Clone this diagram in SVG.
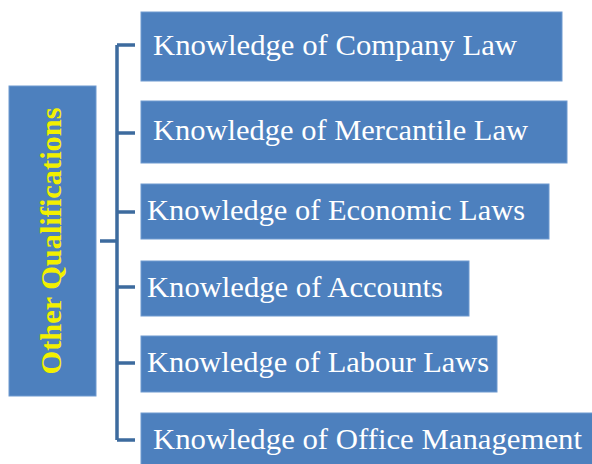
<svg xmlns="http://www.w3.org/2000/svg" width="592" height="464" viewBox="0 0 592 464">
<style>
.box{fill:#4d80be;stroke:#6f9ad0;stroke-width:1}
.t{font-family:"Liberation Serif","Times New Roman",serif;font-size:29px;fill:#ffffff}
.title{font-family:"Liberation Serif","Times New Roman",serif;font-size:30px;font-weight:bold;fill:#f2f000}
.c{stroke:#3d6b9e;stroke-width:3.5;fill:none}
</style>
<rect width="592" height="464" fill="#ffffff"/>
<g id="connectors">
<path class="c" d="M100 241H117M117 45V440M117 45H135M117 133H135M117 212H135M117 287H135M117 363H135M117 440H135"/>
</g>
<g id="root">
<rect class="box" x="9" y="86" width="87" height="310"/>
<text class="title" transform="translate(61,241) rotate(-90)" text-anchor="middle" textLength="267" lengthAdjust="spacingAndGlyphs">Other Qualifications</text>
</g>
<g id="n1">
<rect class="box" x="141" y="12" width="421" height="69"/>
<text class="t" x="153" y="55" textLength="364" lengthAdjust="spacingAndGlyphs">Knowledge of Company Law</text>
</g>
<g id="n2">
<rect class="box" x="141" y="101" width="426" height="62"/>
<text class="t" x="153" y="140" textLength="375" lengthAdjust="spacingAndGlyphs">Knowledge of Mercantile  Law</text>
</g>
<g id="n3">
<rect class="box" x="141" y="184" width="408" height="55"/>
<text class="t" x="147" y="220" textLength="378" lengthAdjust="spacingAndGlyphs">Knowledge of Economic Laws</text>
</g>
<g id="n4">
<rect class="box" x="141" y="261" width="328" height="55"/>
<text class="t" x="147" y="297" textLength="296" lengthAdjust="spacingAndGlyphs">Knowledge of Accounts</text>
</g>
<g id="n5">
<rect class="box" x="141" y="336" width="356" height="56"/>
<text class="t" x="147" y="372" textLength="342" lengthAdjust="spacingAndGlyphs">Knowledge of Labour Laws</text>
</g>
<g id="n6">
<rect class="box" x="141" y="413" width="460" height="60"/>
<text class="t" x="153" y="449" textLength="429" lengthAdjust="spacingAndGlyphs">Knowledge of Office  Management</text>
</g>
</svg>
